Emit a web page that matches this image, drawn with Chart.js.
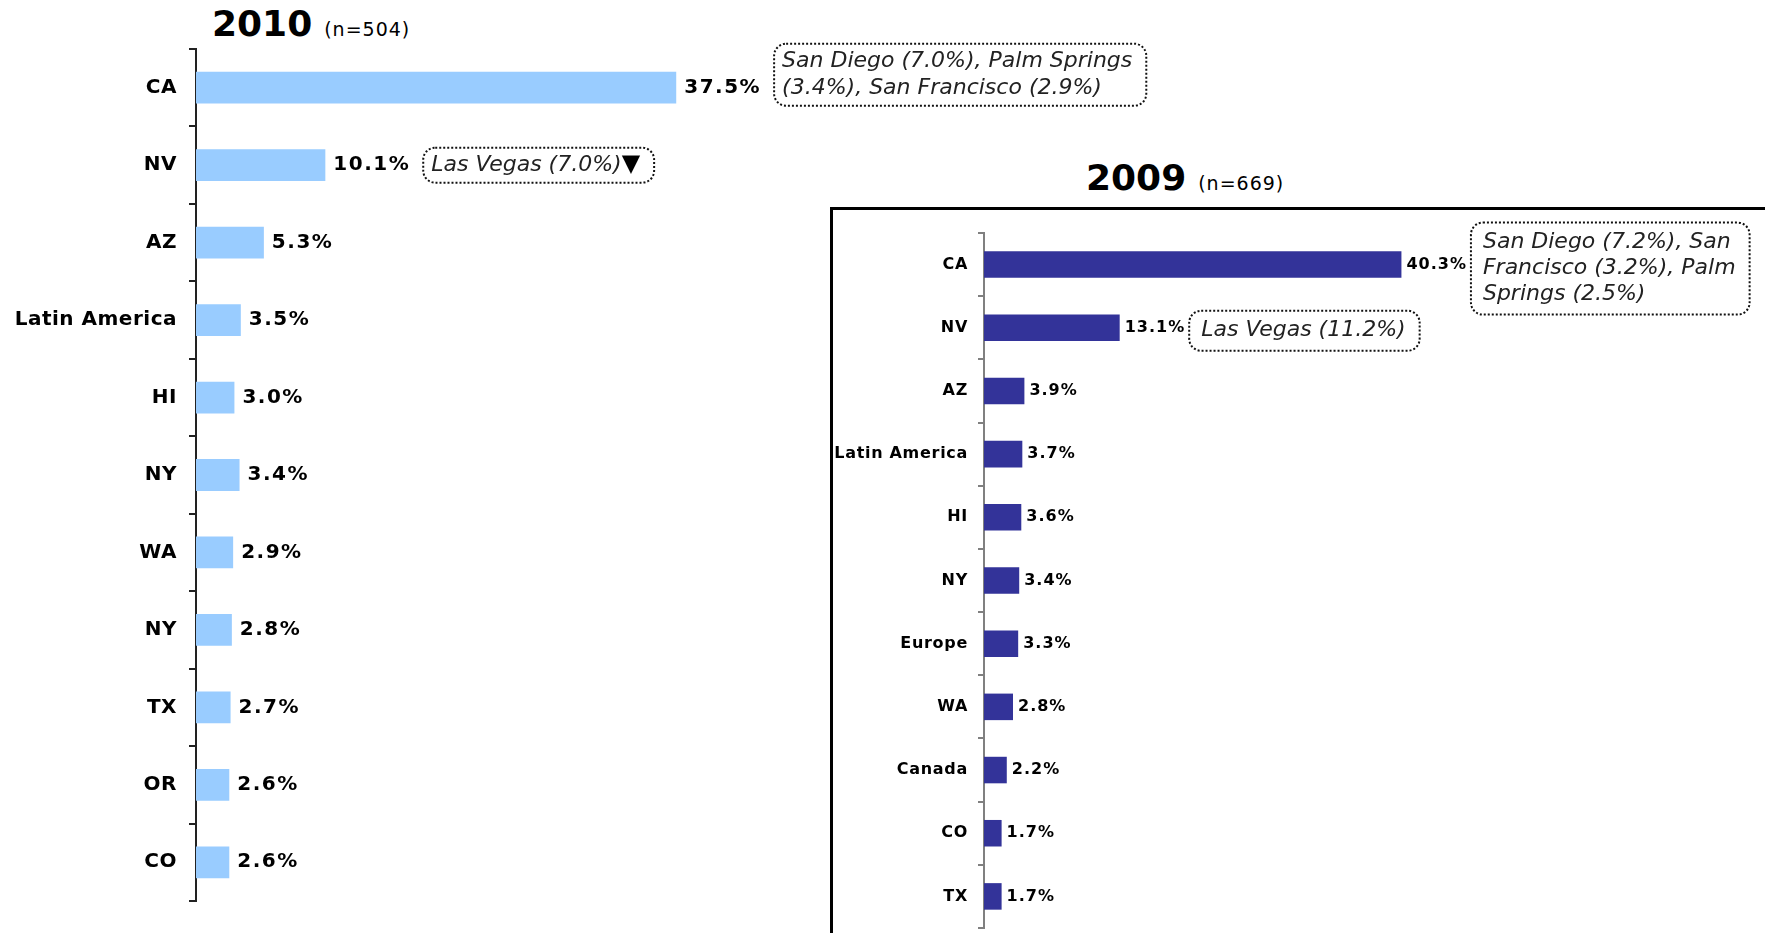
<!DOCTYPE html>
<html lang="en">
<head>
  <meta charset="UTF-8" />
  <title>Top destinations 2010 vs 2009</title>
  <script src="https://cdn.jsdelivr.net/npm/chart.js"></script>
  <style>
    html, body { margin: 0; padding: 0; background: #fff; overflow: hidden; }
    body { width: 1765px; height: 933px; position: relative; font-family: "DejaVu Sans", Verdana, sans-serif; color: #000; }
    .title { position: absolute; white-space: nowrap; line-height: 1; }
    .title b { font-size: 36px; }
    .title span { font-size: 19px; letter-spacing: 1px; margin-left: 12px; }
    #frame { position: absolute; left: 830px; top: 207px; width: 1000px; height: 800px; border: 3px solid #000; }
    canvas { position: absolute; }
  </style>
</head>
<body>
  <div class="title" style="left:212px; top:6px;"><b>2010</b><span>(n=504)</span></div>
  <div class="title" style="left:1086px; top:160px;"><b>2009</b><span>(n=669)</span></div>
  <div id="frame"></div>
  <canvas id="chart2010" width="1200" height="933" style="left:0; top:0;"></canvas>
  <canvas id="chart2009" width="930" height="726" style="left:835px; top:207px;"></canvas>

  <script>
    // 2010 (n=504)
    const places2010 = ['CA', 'NV', 'AZ', 'Latin America', 'HI', 'NY', 'WA', 'NY', 'TX', 'OR', 'CO'];
    const share2010 = [37.5, 10.1, 5.3, 3.5, 3.0, 3.4, 2.9, 2.8, 2.7, 2.6, 2.6];
    const notes2010 = [
      ['San Diego (7.0%), Palm Springs', '(3.4%), San Francisco (2.9%)'],
      ['Las Vegas (7.0%)']
    ];
    const marks2010 = [null, '▼'];

    // 2009 (n=669)
    const places2009 = ['CA', 'NV', 'AZ', 'Latin America', 'HI', 'NY', 'Europe', 'WA', 'Canada', 'CO', 'TX'];
    const share2009 = [40.3, 13.1, 3.9, 3.7, 3.6, 3.4, 3.3, 2.8, 2.2, 1.7, 1.7];
    const notes2009 = [
      ['San Diego (7.2%), San', 'Francisco (3.2%), Palm', 'Springs (2.5%)'],
      ['Las Vegas (11.2%)']
    ];
    const marks2009 = [];

    const FONT = '"DejaVu Sans", Verdana, sans-serif';

    // value labels + dotted callout boxes
    const barNotes = {
      id: 'barNotes',
      beforeDraw(chart, args, opts) {
        chart.ctx.letterSpacing = opts.tickSpacing;
      },
      afterDatasetsDraw(chart, args, opts) {
        const ctx = chart.ctx;
        const meta = chart.getDatasetMeta(0);
        const values = chart.data.datasets[0].data;
        ctx.save();
        ctx.textAlign = 'left';
        ctx.textBaseline = 'middle';
        meta.data.forEach((bar, i) => {
          const txt = values[i].toFixed(1) + '%';
          ctx.font = opts.valueFont;
          ctx.letterSpacing = opts.valueSpacing;
          ctx.fillStyle = '#000';
          const x = bar.x + opts.gap;
          ctx.fillText(txt, x, bar.y);
          const w = ctx.measureText(txt).width;

          const lines = opts.notes[i];
          if (!lines) return;
          const mark = opts.marks[i];
          ctx.letterSpacing = '0px';
          ctx.font = opts.noteFont;
          const tw = Math.max(...lines.map(l => ctx.measureText(l).width));
          let mw = 0;
          if (mark) {
            ctx.font = opts.markFont;
            mw = ctx.measureText(mark).width;
          }
          const bx = x + w + opts.noteGap;
          const bw = opts.padL + tw + mw + opts.padR;
          const bh = lines.length * opts.lineH + opts.padY * 2;
          const by = bar.y - bh / 2 + (opts.dy[i] || 0);

          ctx.beginPath();
          ctx.roundRect(bx, by, bw, bh, 12);
          ctx.setLineDash([2, 2]);
          ctx.lineWidth = 2;
          ctx.strokeStyle = '#111';
          ctx.stroke();
          ctx.setLineDash([]);

          ctx.font = opts.noteFont;
          ctx.fillStyle = '#222';
          lines.forEach((l, k) => {
            ctx.fillText(l, bx + opts.padL, by + opts.padY + opts.lineH * (k + 0.5));
          });
          if (mark) {
            ctx.font = opts.markFont;
            ctx.fillStyle = '#000';
            ctx.fillText(mark, bx + opts.padL + tw, by + bh / 2);
          }
        });
        ctx.restore();
      }
    };

    function makeChart(id, labels, values, color, cfg) {
      return new Chart(document.getElementById(id), {
        type: 'bar',
        data: {
          labels: labels,
          datasets: [{
            data: values,
            backgroundColor: color,
            barPercentage: cfg.barPct,
            categoryPercentage: 1
          }]
        },
        options: {
          indexAxis: 'y',
          responsive: false,
          animation: false,
          layout: { padding: { top: cfg.top, bottom: cfg.bottom, left: 0, right: 0 } },
          plugins: {
            legend: { display: false },
            tooltip: { enabled: false },
            barNotes: cfg.notes
          },
          scales: {
            x: { display: false, min: 0, max: cfg.xMax },
            y: {
              afterFit: s => {
                s.width = cfg.axisX;
                s.paddingTop = 0;
                s.paddingBottom = 0;
              },
              border: { display: true, color: cfg.axisColor, width: 2 },
              grid: {
                display: true,
                drawOnChartArea: false,
                drawTicks: true,
                tickLength: cfg.tickLen,
                color: cfg.axisColor,
                lineWidth: 2,
                offset: true
              },
              ticks: {
                autoSkip: false,
                color: '#000',
                padding: cfg.tickPad,
                font: { family: FONT, size: cfg.labelSize, weight: 'bold' }
              }
            }
          }
        },
        plugins: [barNotes]
      });
    }

    makeChart('chart2010', places2010, share2010, '#99CCFF', {
      barPct: 0.41, top: 49, bottom: 32, axisX: 196, xMax: 78.4,
      axisColor: '#222', tickLen: 7, tickPad: 12, labelSize: 20,
      notes: {
        tickSpacing: '0.5px',
        valueFont: 'bold 20px ' + FONT, valueSpacing: '1.5px', gap: 8,
        notes: notes2010, marks: marks2010,
        noteFont: 'italic 22px ' + FONT, markFont: '24px ' + FONT,
        noteGap: 13, padL: 8, padR: 14, padY: 4, lineH: 27,
        dy: [-13, 0]
      }
    });

    makeChart('chart2009', places2009, share2009, '#333399', {
      barPct: 0.42, top: 26, bottom: 5, axisX: 149, xMax: 75.4,
      axisColor: '#808080', tickLen: 6, tickPad: 10, labelSize: 16,
      notes: {
        tickSpacing: '0.7px',
        valueFont: 'bold 16px ' + FONT, valueSpacing: '1px', gap: 5,
        notes: notes2009, marks: marks2009,
        noteFont: 'italic 22px ' + FONT, markFont: '24px ' + FONT,
        noteGap: 4, padL: 12, padR: 14, padY: 7, lineH: 26,
        dy: [4, 3]
      }
    });
  </script>
</body>
</html>
